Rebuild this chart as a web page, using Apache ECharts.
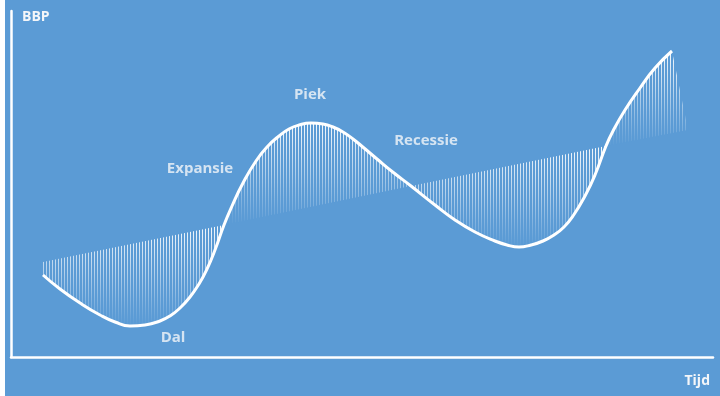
<!DOCTYPE html>
<html>
<head>
<meta charset="utf-8" />
<title>BBP conjunctuur</title>
<script src="https://cdn.jsdelivr.net/npm/echarts@6/dist/echarts.min.js"></script>
<style>
	html, body { margin: 0; padding: 0; background: #fff; }
	#main { width: 720px; height: 396px; }
</style>
</head>
<body>
<div id="main"></div>
<script>
// conjunctuurgolf
var tijd = [32, 49, 69, 89, 104, 119, 134, 149, 159, 169, 179, 188, 196, 204, 213, 221, 232, 245, 257, 268,
	278, 288, 300, 312, 322, 332, 342, 353, 366, 383, 400, 424, 444, 464, 484, 496, 508, 520, 532, 543,
	553, 562, 574, 584, 595, 602, 614, 629, 644, 661];
var bbp = [82, 68, 54, 42, 35, 31, 32, 36, 41, 49, 60, 73, 88, 107, 132, 151, 174, 196, 211, 221,
	228, 232, 234, 233, 230, 225, 218, 209, 198, 184, 171, 152, 137, 125, 116, 112, 110, 112, 116, 122,
	130, 141, 161, 182, 211, 226, 247, 269, 289, 306];

// trendlijn (begin, snijpunten met de golf, eind van de arcering)
var trendTijd = [32, 213, 400, 595, 677];
var trendBbp = [95, 132, 171, 211, 227];

// fasen tussen de snijpunten: index in tijd, golf boven de trend of niet
var faseVan = [0, 14, 30, 44];
var faseTot = [14, 30, 44, 49];
var faseBoven = [false, true, false, true];

var labelNamen = ['Expansie', 'Piek', 'Recessie', 'Dal'];
var labelTijd = [189, 299, 415, 162];
var labelBbp = [188, 262, 216, 19];

var blauw = '#5B9BD5';
var tekst = '#f4f6f9';
var font = "'Open Sans', 'DejaVu Sans', sans-serif";

var myChart = echarts.init(document.getElementById('main'));

function paren(xs, ys, van, tot) {
	var out = [];
	for (var i = van; i <= tot; i++) out.push([xs[i], ys[i]]);
	return out;
}

// verticale streepjes die naar onder vervagen
function strepen(hoogte) {
	var c = document.createElement('canvas');
	c.width = 3;
	c.height = Math.max(1, Math.round(hoogte));
	var ctx = c.getContext('2d');
	var g = ctx.createLinearGradient(0, 0, 0, c.height);
	g.addColorStop(0, 'rgba(255,255,255,0.95)');
	g.addColorStop(0.5, 'rgba(255,255,255,0.5)');
	g.addColorStop(1, 'rgba(255,255,255,0)');
	ctx.fillStyle = g;
	ctx.fillRect(1, 0, 1, c.height);
	return c;
}

function buildOption(vulling) {
	var series = [];
	faseVan.forEach(function(van, i) {
		var golf = paren(tijd, bbp, van, faseTot[i]);
		var trend = paren(trendTijd, trendBbp, i, i + 1);
		var boven = faseBoven[i];
		var laatste = trend[1];
		var uitloop = boven && laatste[0] > golf[golf.length - 1][0];
		// arcering loopt na het eind van de golf nog schuin door tot de trend
		if (uitloop) golf = golf.concat([laatste]);
		series.push({
			type: 'line',
			data: boven ? golf : trend,
			smooth: boven && !uitloop,
			showSymbol: false,
			silent: true,
			z: 2,
			lineStyle: { opacity: 0 },
			areaStyle: { color: vulling ? vulling[i] : 'transparent', opacity: 1 }
		});
		series.push({
			type: 'line',
			data: boven ? trend : golf,
			smooth: !boven,
			showSymbol: false,
			silent: true,
			z: 3,
			lineStyle: { opacity: 0 },
			areaStyle: { color: blauw, opacity: 1 }
		});
	});
	series.push({
		type: 'line',
		data: paren(tijd, bbp, 0, tijd.length - 1),
		smooth: true,
		showSymbol: false,
		silent: true,
		z: 4,
		lineStyle: { color: '#ffffff', width: 3 }
	});
	series.push({
		type: 'scatter',
		symbolSize: 0,
		silent: true,
		z: 6,
		data: labelNamen.map(function(n, i) {
			return { name: n, value: [labelTijd[i], labelBbp[i]] };
		}),
		label: {
			show: true,
			position: 'inside',
			formatter: '{b}',
			color: tekst,
			fontFamily: font,
			fontWeight: 'bold',
			fontSize: 15
		}
	});

	var as = {
		type: 'value',
		z: 10,
		axisLine: { show: true, lineStyle: { color: '#ffffff', width: 2.5 } },
		axisTick: { show: false },
		axisLabel: { show: false },
		splitLine: { show: false }
	};

	return {
		animation: false,
		backgroundColor: blauw,
		grid: { left: 11, right: 7, top: 11, bottom: 39, outerBoundsMode: 'none' },
		xAxis: Object.assign({}, as, {
			min: 0, max: 702,
			name: 'Tijd',
			nameLocation: 'end',
			nameGap: -3,
			nameTextStyle: { color: tekst, fontFamily: font, fontWeight: 'bold', fontSize: 14,
				align: 'right', verticalAlign: 'top', padding: [17, 0, 0, 0] }
		}),
		yAxis: Object.assign({}, as, {
			min: 0, max: 346,
			name: 'BBP',
			nameLocation: 'end',
			nameGap: -6,
			nameTextStyle: { color: tekst, fontFamily: font, fontWeight: 'bold', fontSize: 14,
				align: 'left', verticalAlign: 'middle', padding: [0, 0, 0, 11] }
		}),
		graphic: [{
			type: 'rect', left: 0, top: 0, z: 20,
			shape: { width: 5, height: 396 },
			style: { fill: '#ffffff' }
		}],
		series: series
	};
}

myChart.setOption(buildOption(null));

// patroon per fase over de hoogte van die fase
var vulling = faseVan.map(function(van, i) {
	var waarden = bbp.slice(van, faseTot[i] + 1).concat(trendBbp.slice(i, i + 2));
	var boven = myChart.convertToPixel({ gridIndex: 0 }, [0, Math.max.apply(null, waarden)])[1];
	var onder = myChart.convertToPixel({ gridIndex: 0 }, [0, Math.min.apply(null, waarden)])[1];
	return { image: strepen(onder - boven), repeat: 'repeat-x', x: 0, y: boven };
});
myChart.setOption(buildOption(vulling));

window.onresize = function() {
	myChart.resize();
};
</script>
</body>
</html>
